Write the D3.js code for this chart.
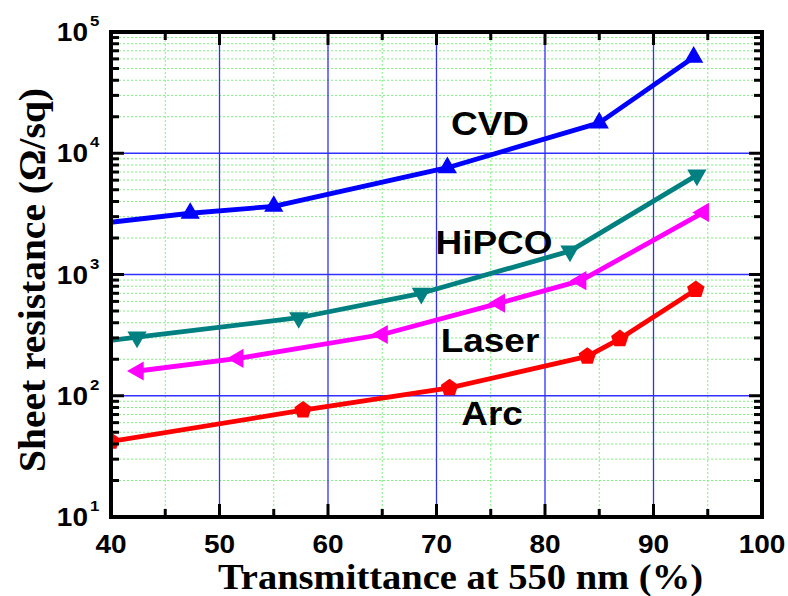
<!DOCTYPE html>
<html><head><meta charset="utf-8">
<script src="https://cdn.jsdelivr.net/npm/d3@7"></script>
<style>body{margin:0;background:#fff}svg{display:block}</style>
</head><body>
<svg id="chart" width="788" height="596"></svg>
<script>
// Data
const cvdX = [35, 47.3, 55.0, 71.0, 85.0, 93.7];
const cvdY = [2400, 3200, 3650, 7600, 17800, 62000];
const hipcoX = [35, 42.4, 57.3, 68.6, 82.3, 94.0];
const hipcoY = [250, 305, 440, 700, 1560, 6600];
const laserX = [42.5, 51.7, 65.0, 75.8, 83.3, 94.6];
const laserY = [160, 203, 320, 580, 890, 3250];
const arcX = [40, 57.7, 71.2, 83.9, 86.9, 93.9];
const arcY = [42, 76, 116, 211, 295, 750];
const seriesNames = ["CVD", "HiPCO", "Laser", "Arc"];
const seriesColors = ["#0000ff", "#008080", "#ff00ff", "#ff0000"];
const seriesMarkers = ["up", "down", "left", "pentagon"];
const xTicks = [40, 50, 60, 70, 80, 90, 100];
const yExps = [1, 2, 3, 4, 5];
const labelPos = [[490, 135], [494, 254], [490, 352], [492, 425]];

const L = 111, R = 762, T = 32, B = 517;
const SX = 1.12;
const svg = d3.select("#chart");
const x = d3.scaleLinear().domain([40, 100]).range([L, R]);
const y = d3.scaleLog().domain([10, 1e5]).range([B, T]);

svg.append("defs").append("clipPath").attr("id", "clip")
  .append("rect").attr("x", L).attr("y", T).attr("width", R - L).attr("height", B - T);

// Minor grid (green dotted)
const xMinor = d3.range(45, 100, 10);
const yMinor = [];
for (let e = 1; e < 5; e++) for (let m = 2; m <= 9; m++) yMinor.push(m * Math.pow(10, e));
const g = svg.append("g");
g.selectAll(".xm").data(xMinor).enter().append("line")
  .attr("x1", d => x(d)).attr("x2", d => x(d)).attr("y1", T).attr("y2", B)
  .attr("stroke", "#7ff07f").attr("stroke-width", 1).attr("stroke-dasharray", "2,2");
g.selectAll(".ym").data(yMinor).enter().append("line")
  .attr("y1", d => y(d)).attr("y2", d => y(d)).attr("x1", L).attr("x2", R)
  .attr("stroke", "#7ff07f").attr("stroke-width", 1).attr("stroke-dasharray", "2,2");
// Major grid (blue)
g.selectAll(".xM").data(xTicks.slice(1, -1)).enter().append("line")
  .attr("x1", d => x(d)).attr("x2", d => x(d)).attr("y1", T).attr("y2", B)
  .attr("stroke", "#3030ff").attr("stroke-width", 1.3);
g.selectAll(".yM").data(yExps.slice(1, -1)).enter().append("line")
  .attr("y1", d => y(Math.pow(10, d))).attr("y2", d => y(Math.pow(10, d))).attr("x1", L).attr("x2", R)
  .attr("stroke", "#3030ff").attr("stroke-width", 1.3);

// Series
const allX = [cvdX, hipcoX, laserX, arcX];
const allY = [cvdY, hipcoY, laserY, arcY];
const plot = svg.append("g").attr("clip-path", "url(#clip)");
const pentagon = {
  draw(ctx, size) {
    const r = Math.sqrt(size / 2.378);
    for (let i = 0; i < 5; i++) {
      const a = -Math.PI / 2 + i * 2 * Math.PI / 5;
      if (i === 0) ctx.moveTo(r * Math.cos(a), r * Math.sin(a));
      else ctx.lineTo(r * Math.cos(a), r * Math.sin(a));
    }
    ctx.closePath();
  }
};
const line = d3.line().x(d => x(d[0])).y(d => y(d[1]));
seriesNames.forEach((name, i) => {
  const pts = allX[i].map((v, j) => [v, allY[i][j]]);
  plot.append("path").datum(pts).attr("d", line)
    .attr("fill", "none").attr("stroke", seriesColors[i]).attr("stroke-width", 4.8)
    .attr("stroke-linejoin", "round");
  const mk = seriesMarkers[i];
  const sym = mk === "pentagon" ? d3.symbol().type(pentagon).size(200) : d3.symbol().type(d3.symbolTriangle).size(160);
  const rot = mk === "down" ? 180 : mk === "left" ? -90 : 0;
  plot.selectAll(".m" + i).data(pts).enter().append("path")
    .attr("d", sym)
    .attr("transform", d => `translate(${x(d[0])},${y(d[1])}) rotate(${rot})`)
    .attr("fill", seriesColors[i]);
});

// Ticks (inside, all four sides)
const ax = svg.append("g").attr("stroke", "#000").attr("stroke-width", 3);
const yMaj = yExps.map(e => Math.pow(10, e));
xTicks.forEach(v => {
  ax.append("line").attr("x1", x(v)).attr("x2", x(v)).attr("y1", B).attr("y2", B - 13);
  ax.append("line").attr("x1", x(v)).attr("x2", x(v)).attr("y1", T).attr("y2", T + 13);
});
xMinor.forEach(v => {
  ax.append("line").attr("x1", x(v)).attr("x2", x(v)).attr("y1", B).attr("y2", B - 8);
  ax.append("line").attr("x1", x(v)).attr("x2", x(v)).attr("y1", T).attr("y2", T + 8);
});
yMaj.forEach(v => {
  ax.append("line").attr("y1", y(v)).attr("y2", y(v)).attr("x1", L).attr("x2", L + 13);
  ax.append("line").attr("y1", y(v)).attr("y2", y(v)).attr("x1", R).attr("x2", R - 13);
});
yMinor.forEach(v => {
  ax.append("line").attr("y1", y(v)).attr("y2", y(v)).attr("x1", L).attr("x2", L + 8);
  ax.append("line").attr("y1", y(v)).attr("y2", y(v)).attr("x1", R).attr("x2", R - 8);
});
svg.append("rect").attr("x", L).attr("y", T).attr("width", R - L).attr("height", B - T)
  .attr("fill", "none").attr("stroke", "#000").attr("stroke-width", 4);

// helper: horizontally stretched text
function stext(px, py, str, size, anchor, family) {
  return svg.append("g").attr("transform", `translate(${px},${py}) scale(${SX},1)`)
    .append("text").attr("text-anchor", anchor || "start")
    .attr("font-family", family).attr("font-weight", "bold").attr("font-size", size).text(str);
}

// Tick labels
const sans = "'Liberation Sans', Arial, sans-serif";
xTicks.forEach(v => stext(x(v), 553, v, 25, "middle", sans));
yExps.forEach(e => {
  stext(88, y(Math.pow(10, e)) + 9, "10", 25, "end", sans);
  stext(90, y(Math.pow(10, e)) - 6, e, 15, "start", sans);
});

// Axis titles
const serif = "'Liberation Serif', 'Times New Roman', serif";
svg.append("text").attr("x", 218).attr("y", 589)
  .attr("font-family", serif).attr("font-weight", "bold").attr("font-size", 35)
  .attr("textLength", 485).attr("lengthAdjust", "spacingAndGlyphs")
  .text("Transmittance at 550 nm (%)");
svg.append("text").attr("transform", "translate(45,472) rotate(-90)")
  .attr("font-family", serif).attr("font-weight", "bold").attr("font-size", 37)
  .attr("textLength", 384).attr("lengthAdjust", "spacingAndGlyphs")
  .text("Sheet resistance (Ω/sq)");

// Series labels
seriesNames.forEach((name, i) => stext(labelPos[i][0], labelPos[i][1], name, 33, "middle", sans));
</script>
</body></html>
